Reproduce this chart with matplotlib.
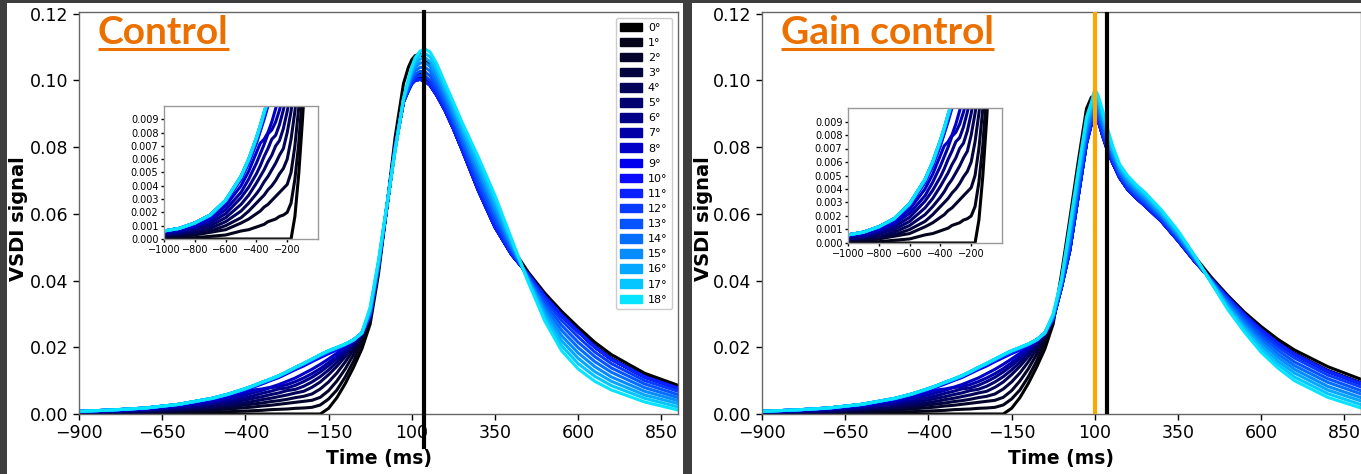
import matplotlib
matplotlib.use("Agg")
import matplotlib.pyplot as plt
from matplotlib.patches import Patch, Rectangle
from matplotlib.lines import Line2D
from matplotlib.ticker import FormatStrFormatter

# ---------------- data ----------------
angles = list(range(19))
angle_colors = ['#000000', '#05051a', '#05052c', '#030340', '#020258', '#010170',
                '#000088', '#0000a6', '#0000c8', '#0000ee', '#0a0aff', '#0a22ff',
                '#083aff', '#0654ff', '#066eff', '#068cff', '#06a8ff', '#06c6ff', '#06e4ff']

# pre-response part (identical in both panels), one row per angle
tail_times = [-1000, -900, -800, -700, -600, -500, -450, -400, -375, -350, -325,
              -300, -275, -250, -225, -200, -175, -150, -125, -100, -75, -50]
tail_values = [
    [0, 0, 0, 0, 0, 0, 0, 0, 0, 0, 0, 0, 0, 0, 0, 0, 0, .0017, .0049, .0091, .0140, .0195],
    [.0001, .0001, .0001, .0002, .0003, .0006, .0007, .0009, .0010, .0011, .0013, .0014, .0015, .0017, .0018, .0020, .0027, .0045, .0072, .0111, .0158, .0215],
    [.0002, .0002, .0003, .0005, .0007, .0012, .0015, .0019, .0021, .0024, .0026, .0029, .0032, .0035, .0038, .0041, .0050, .0070, .0099, .0135, .0178, .0228],
    [.0002, .0003, .0004, .0006, .0010, .0016, .0021, .0027, .0030, .0033, .0037, .0040, .0044, .0049, .0053, .0060, .0075, .0096, .0123, .0156, .0193, .0235],
    [.0003, .0004, .0005, .0008, .0013, .0021, .0027, .0034, .0038, .0043, .0047, .0052, .0057, .0063, .0068, .0080, .0096, .0118, .0143, .0172, .0204, .0240],
    [.0003, .0004, .0007, .0010, .0016, .0026, .0033, .0042, .0047, .0052, .0058, .0063, .0070, .0074, .0083, .0096, .0112, .0132, .0155, .0181, .0209, .0240],
    [.0004, .0005, .0008, .0012, .0019, .0031, .0039, .0049, .0055, .0062, .0068, .0075, .0078, .0086, .0097, .0110, .0126, .0145, .0166, .0189, .0214, .0240],
    [.0005, .0006, .0009, .0014, .0022, .0035, .0045, .0057, .0064, .0071, .0079, .0082, .0088, .0097, .0108, .0121, .0136, .0154, .0173, .0194, .0216, .0240],
    [.0005, .0007, .0010, .0015, .0025, .0040, .0051, .0065, .0072, .0075, .0080, .0088, .0098, .0108, .0121, .0134, .0149, .0165, .0182, .0201, .0220, .0240],
    [.0006, .0008, .0011, .0017, .0028, .0045, .0057, .0072, .0081, .0090, .0100, .0109, .0121, .0133, .0144, .0157, .0169, .0181, .0192, .0206, .0221, .0241],
    [.0006, .0008, .0012, .0017, .0028, .0045, .0058, .0073, .0082, .0092, .0101, .0111, .0123, .0135, .0147, .0159, .0172, .0183, .0194, .0207, .0222, .0242],
    [.0006, .0008, .0012, .0018, .0028, .0046, .0059, .0074, .0083, .0093, .0102, .0112, .0124, .0137, .0148, .0161, .0174, .0185, .0196, .0207, .0222, .0242],
    [.0006, .0008, .0012, .0018, .0029, .0046, .0059, .0075, .0084, .0094, .0103, .0113, .0125, .0138, .0150, .0163, .0175, .0187, .0197, .0208, .0222, .0242],
    [.0006, .0008, .0012, .0018, .0029, .0047, .0059, .0075, .0084, .0094, .0104, .0114, .0126, .0139, .0150, .0163, .0176, .0188, .0198, .0208, .0222, .0242],
    [.0006, .0008, .0012, .0018, .0029, .0047, .0060, .0076, .0085, .0095, .0104, .0114, .0126, .0139, .0151, .0164, .0177, .0189, .0199, .0209, .0222, .0243],
    [.0006, .0008, .0012, .0018, .0029, .0047, .0060, .0076, .0085, .0095, .0104, .0114, .0126, .0139, .0151, .0164, .0177, .0189, .0199, .0209, .0222, .0243],
    [.0006, .0008, .0012, .0018, .0029, .0047, .0060, .0076, .0085, .0095, .0104, .0114, .0126, .0139, .0151, .0164, .0177, .0189, .0199, .0209, .0222, .0243],
    [.0006, .0008, .0012, .0018, .0029, .0047, .0060, .0076, .0085, .0095, .0104, .0114, .0126, .0139, .0151, .0164, .0177, .0189, .0199, .0209, .0222, .0243],
    [.0006, .0008, .0012, .0018, .0029, .0047, .0060, .0076, .0085, .0095, .0105, .0115, .0127, .0140, .0152, .0165, .0178, .0190, .0200, .0210, .0222, .0243],
]

# response part: one row per time point, one value per angle (0..18 deg)
post_times = [-25, 0, 25, 50, 75, 90, 100, 110, 125, 140, 155, 175, 200, 225, 250,
              300, 350, 400, 450, 500, 550, 600, 650, 700, 800, 900]
control_post = [
    [.0270, .0290, .0293, .0294, .0294, .0294, .0295, .0295, .0295, .0295, .0295, .0295, .0299, .0302, .0306, .0309, .0313, .0316, .0320],
    [.0420, .0436, .0438, .0439, .0439, .0439, .0440, .0440, .0440, .0440, .0440, .0440, .0443, .0446, .0449, .0451, .0454, .0457, .0460],
    [.0620, .0620, .0620, .0620, .0620, .0620, .0620, .0620, .0620, .0620, .0620, .0620, .0621, .0621, .0622, .0623, .0624, .0624, .0625],
    [.0830, .0806, .0803, .0802, .0801, .0801, .0801, .0800, .0800, .0800, .0800, .0800, .0799, .0797, .0796, .0794, .0793, .0791, .0790],
    [.0990, .0946, .0941, .0938, .0937, .0937, .0936, .0936, .0936, .0935, .0935, .0935, .0936, .0938, .0939, .0941, .0942, .0944, .0945],
    [.1040, .0984, .0977, .0974, .0973, .0972, .0971, .0971, .0971, .0970, .0970, .0970, .0975, .0980, .0985, .0990, .0995, .1000, .1005],
    [.1062, .1004, .0997, .0994, .0993, .0992, .0991, .0991, .0991, .0990, .0990, .0990, .0997, .1004, .1011, .1019, .1026, .1033, .1040],
    [.1074, .1015, .1007, .1004, .1003, .1002, .1001, .1001, .1001, .1000, .1000, .1000, .1010, .1019, .1029, .1039, .1049, .1058, .1068],
    [.1080, .1018, .1011, .1008, .1006, .1005, .1004, .1004, .1003, .1003, .1003, .1003, .1015, .1027, .1039, .1052, .1064, .1076, .1088],
    [.1066, .1012, .1005, .1002, .1001, .1000, .0999, .0999, .0999, .0998, .0998, .0998, .1012, .1025, .1039, .1053, .1067, .1080, .1094],
    [.1045, .0997, .0991, .0989, .0987, .0987, .0986, .0986, .0986, .0985, .0985, .0985, .0999, .1014, .1028, .1042, .1056, .1071, .1085],
    [.1000, .0964, .0960, .0958, .0957, .0957, .0956, .0956, .0956, .0955, .0955, .0955, .0969, .0982, .0996, .1009, .1023, .1036, .1050],
    [.0945, .0917, .0914, .0912, .0911, .0911, .0911, .0910, .0910, .0910, .0910, .0910, .0922, .0933, .0945, .0957, .0969, .0980, .0992],
    [.0888, .0862, .0858, .0857, .0856, .0856, .0856, .0855, .0855, .0855, .0855, .0855, .0866, .0878, .0889, .0901, .0912, .0924, .0935],
    [.0830, .0802, .0799, .0797, .0796, .0796, .0796, .0795, .0795, .0795, .0795, .0795, .0807, .0818, .0830, .0842, .0854, .0865, .0877],
    [.0712, .0678, .0674, .0673, .0672, .0671, .0671, .0670, .0670, .0670, .0670, .0670, .0684, .0699, .0713, .0727, .0741, .0756, .0770],
    [.0598, .0568, .0564, .0562, .0562, .0561, .0561, .0560, .0560, .0560, .0560, .0560, .0574, .0587, .0601, .0614, .0628, .0641, .0655],
    [.0500, .0482, .0480, .0479, .0479, .0479, .0478, .0478, .0478, .0478, .0478, .0478, .0485, .0491, .0498, .0505, .0512, .0518, .0525],
    [.0425, .0419, .0419, .0418, .0418, .0418, .0418, .0418, .0418, .0418, .0418, .0418, .0415, .0411, .0408, .0405, .0402, .0398, .0395],
    [.0362, .0354, .0353, .0353, .0352, .0352, .0352, .0352, .0352, .0352, .0352, .0352, .0341, .0331, .0320, .0310, .0299, .0289, .0278],
    [.0308, .0298, .0297, .0297, .0297, .0296, .0296, .0296, .0296, .0296, .0296, .0296, .0281, .0266, .0251, .0235, .0220, .0205, .0190],
    [.0260, .0250, .0248, .0248, .0248, .0247, .0247, .0247, .0247, .0247, .0247, .0247, .0231, .0215, .0199, .0183, .0167, .0151, .0135],
    [.0215, .0204, .0202, .0202, .0202, .0201, .0201, .0201, .0201, .0201, .0201, .0201, .0186, .0172, .0157, .0142, .0127, .0113, .0098],
    [.0178, .0167, .0165, .0165, .0165, .0164, .0164, .0164, .0164, .0164, .0164, .0164, .0151, .0138, .0125, .0111, .0098, .0085, .0072],
    [.0122, .0113, .0112, .0112, .0111, .0111, .0111, .0111, .0111, .0111, .0111, .0111, .0100, .0090, .0079, .0068, .0057, .0047, .0036],
    [.0086, .0079, .0078, .0078, .0077, .0077, .0077, .0077, .0077, .0077, .0077, .0077, .0068, .0058, .0049, .0040, .0031, .0021, .0012],
]
gain_post = [
    [.0270, .0282, .0284, .0284, .0284, .0285, .0285, .0285, .0285, .0285, .0285, .0285, .0287, .0289, .0291, .0294, .0296, .0298, .0300],
    [.0420, .0388, .0384, .0382, .0382, .0381, .0381, .0381, .0380, .0380, .0380, .0380, .0384, .0387, .0391, .0394, .0398, .0401, .0405],
    [.0585, .0509, .0500, .0496, .0494, .0493, .0492, .0491, .0491, .0490, .0490, .0490, .0501, .0511, .0522, .0533, .0544, .0554, .0565],
    [.0755, .0671, .0661, .0656, .0654, .0653, .0652, .0651, .0651, .0650, .0650, .0650, .0661, .0673, .0684, .0696, .0707, .0719, .0730],
    [.0915, .0831, .0821, .0816, .0814, .0813, .0812, .0811, .0811, .0810, .0810, .0810, .0821, .0833, .0844, .0856, .0867, .0879, .0890],
    [.0950, .0886, .0878, .0875, .0873, .0872, .0872, .0871, .0871, .0870, .0870, .0870, .0879, .0889, .0898, .0907, .0916, .0926, .0935],
    [.0950, .0902, .0896, .0894, .0892, .0892, .0891, .0891, .0891, .0890, .0890, .0890, .0902, .0914, .0926, .0939, .0951, .0963, .0975],
    [.0915, .0887, .0884, .0882, .0881, .0881, .0881, .0881, .0880, .0880, .0880, .0880, .0891, .0901, .0912, .0923, .0934, .0944, .0955],
    [.0855, .0835, .0833, .0832, .0831, .0831, .0831, .0830, .0830, .0830, .0830, .0830, .0841, .0851, .0862, .0873, .0884, .0894, .0905],
    [.0805, .0789, .0787, .0786, .0786, .0786, .0785, .0785, .0785, .0785, .0785, .0785, .0794, .0804, .0813, .0822, .0831, .0841, .0850],
    [.0768, .0754, .0752, .0751, .0751, .0751, .0750, .0750, .0750, .0750, .0750, .0750, .0757, .0764, .0771, .0779, .0786, .0793, .0800],
    [.0722, .0711, .0709, .0709, .0709, .0708, .0708, .0708, .0708, .0708, .0708, .0708, .0714, .0719, .0725, .0731, .0737, .0742, .0748],
    [.0683, .0674, .0673, .0673, .0672, .0672, .0672, .0672, .0672, .0672, .0672, .0672, .0678, .0684, .0690, .0695, .0701, .0707, .0713],
    [.0657, .0649, .0648, .0648, .0647, .0647, .0647, .0647, .0647, .0647, .0647, .0647, .0653, .0658, .0664, .0670, .0676, .0681, .0687],
    [.0635, .0627, .0626, .0626, .0625, .0625, .0625, .0625, .0625, .0625, .0625, .0625, .0631, .0636, .0642, .0648, .0654, .0659, .0665],
    [.0590, .0580, .0579, .0579, .0578, .0578, .0578, .0578, .0578, .0578, .0578, .0578, .0583, .0588, .0593, .0597, .0602, .0607, .0612],
    [.0535, .0523, .0522, .0521, .0521, .0520, .0520, .0520, .0520, .0520, .0520, .0520, .0524, .0529, .0533, .0537, .0541, .0546, .0550],
    [.0472, .0461, .0459, .0459, .0459, .0458, .0458, .0458, .0458, .0458, .0458, .0458, .0460, .0463, .0465, .0468, .0470, .0473, .0475],
    [.0410, .0404, .0404, .0403, .0403, .0403, .0403, .0403, .0403, .0403, .0403, .0403, .0402, .0400, .0399, .0397, .0396, .0394, .0393],
    [.0355, .0350, .0350, .0349, .0349, .0349, .0349, .0349, .0349, .0349, .0349, .0349, .0344, .0339, .0334, .0328, .0323, .0318, .0313],
    [.0305, .0299, .0298, .0297, .0297, .0297, .0297, .0297, .0297, .0297, .0297, .0297, .0290, .0282, .0275, .0267, .0260, .0253, .0245],
    [.0262, .0254, .0253, .0253, .0252, .0252, .0252, .0252, .0252, .0252, .0252, .0252, .0242, .0233, .0223, .0214, .0204, .0195, .0185],
    [.0224, .0214, .0213, .0213, .0212, .0212, .0212, .0212, .0212, .0212, .0212, .0212, .0201, .0191, .0180, .0170, .0159, .0149, .0138],
    [.0192, .0182, .0180, .0180, .0179, .0179, .0179, .0179, .0179, .0179, .0179, .0179, .0168, .0156, .0145, .0134, .0123, .0111, .0100],
    [.0142, .0131, .0129, .0129, .0129, .0128, .0128, .0128, .0128, .0128, .0128, .0128, .0117, .0106, .0095, .0083, .0072, .0061, .0050],
    [.0104, .0094, .0092, .0092, .0092, .0091, .0091, .0091, .0091, .0091, .0091, .0091, .0081, .0070, .0060, .0049, .0039, .0028, .0018],
]

panel_titles = ['Control', 'Gain control']
peak_line_control = 138
peak_line_gain = 100
main_xticks = [-900, -650, -400, -150, 100, 350, 600, 850]
main_yticks = [0.00, 0.02, 0.04, 0.06, 0.08, 0.10, 0.12]
inset_xticks = [-1000, -800, -600, -400, -200]
inset_yticks = [0.000, 0.001, 0.002, 0.003, 0.004, 0.005, 0.006, 0.007, 0.008, 0.009]

for row in tail_values:
    assert len(row) == len(tail_times)
for tab in (control_post, gain_post):
    assert len(tab) == len(post_times)
    for row in tab:
        assert len(row) == len(angles)

# ---------------- figure ----------------
W, H = 1361, 474
fig = plt.figure(figsize=(W / 100, H / 100), dpi=100)
fig.patch.set_facecolor('#3e3e3e')


def fx(px):
    return px / W


def fy(py):
    return 1 - py / H


for x0, x1 in ((7, 683), (692, 1361)):
    fig.add_artist(Rectangle((fx(x0), 0), fx(x1) - fx(x0), fy(3), transform=fig.transFigure,
                             facecolor='white', edgecolor='none', zorder=0))

ORANGE_TITLE = '#EC7000'
SPINE = '#666666'
LW = 2.2


def curves(post, i):
    t = tail_times + post_times
    v = tail_values[i] + [row[i] for row in post]
    return t, v


def draw_panel(ax_rect, inset_rect, post, title, ylab_x):
    ax = fig.add_axes(ax_rect)
    for i in angles:
        t, v = curves(post, i)
        ax.plot(t, v, color=angle_colors[i], lw=LW, zorder=2, solid_joinstyle='round')
    ax.set_xlim(-900, 900)
    ax.set_ylim(0, 0.1205)
    ax.set_xticks(main_xticks)
    ax.set_yticks(main_yticks)
    ax.yaxis.set_major_formatter(FormatStrFormatter('%.2f'))
    ax.tick_params(labelsize=12.5, length=4, width=1)
    for s in ax.spines.values():
        s.set_color(SPINE)
        s.set_linewidth(1)
    ax.set_ylabel('VSDI signal', fontsize=14, fontweight='bold')
    ax.yaxis.set_label_coords(ylab_x, 0.485)
    ax.set_xlabel('Time (ms)', fontsize=13.5, fontweight='bold')
    ax.xaxis.set_label_coords(0.5, -0.11)
    ax.xaxis.label.set_va('center')
    txt = ax.text(0.0317, 0.920, title, transform=ax.transAxes, fontsize=28,
                  fontweight='bold', family=['Lato', 'DejaVu Sans'], color=ORANGE_TITLE,
                  va='baseline', ha='left', zorder=5)

    ins = fig.add_axes(inset_rect)
    for i in angles:
        t, v = curves(post, i)
        ins.plot(t, v, color=angle_colors[i], lw=LW, solid_joinstyle='round')
    ins.set_xlim(-1000, 0)
    ins.set_ylim(0, 0.01)
    ins.set_xticks(inset_xticks)
    ins.set_yticks(inset_yticks)
    ins.yaxis.set_major_formatter(FormatStrFormatter('%.3f'))
    ins.tick_params(labelsize=7, length=2.5, width=1, pad=1.5)
    for s in ins.spines.values():
        s.set_color('#999999')
        s.set_linewidth(1)
    return ax, txt


ax1, t1 = draw_panel([fx(79), fy(414), fx(678) - fx(79), fy(12) - fy(414)],
                     [fx(164), fy(239), fx(318) - fx(164), fy(106) - fy(239)],
                     control_post, panel_titles[0], -0.085)
ax2, t2 = draw_panel([fx(762), fy(414), fx(1361) - fx(762), fy(12) - fy(414)],
                     [fx(848), fy(243), fx(1002) - fx(848), fy(108) - fy(243)],
                     gain_post, panel_titles[1], -0.082)

ax1.axvline(peak_line_control, color='black', lw=3, ymin=-0.082, ymax=1, clip_on=False, zorder=4)
ax2.axvline(peak_line_gain, color='#FFA500', lw=3, zorder=4)
ax2.axvline(peak_line_control, color='black', lw=3, zorder=4)

handles = [Patch(facecolor=c, edgecolor=c, label=f'{a}°') for a, c in zip(angles, angle_colors)]
leg = ax1.legend(handles=handles, loc='upper right', fontsize=8, handlelength=2.0,
                 handleheight=0.8, handletextpad=0.5, labelspacing=0.45, borderpad=0.4,
                 borderaxespad=0.55, framealpha=1, edgecolor='#cccccc', fancybox=True)
leg.set_zorder(6)

# underline the panel titles
fig.canvas.draw()
inv = fig.transFigure.inverted()
for txt in (t1, t2):
    bb = txt.get_window_extent()
    (xa, _), (xb, _) = inv.transform([(bb.x0, 0), (bb.x1, 0)])
    fig.add_artist(Line2D([xa, xb], [fy(48.5), fy(48.5)], transform=fig.transFigure,
                          color=ORANGE_TITLE, lw=2.2, solid_capstyle='butt', zorder=6))

fig.savefig('out.png', dpi=100, facecolor=fig.get_facecolor())
